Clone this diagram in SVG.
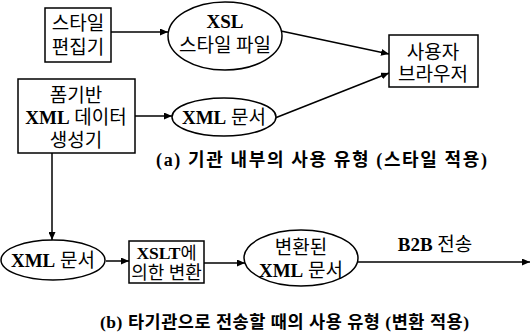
<svg xmlns="http://www.w3.org/2000/svg" width="532" height="336" viewBox="0 0 532 336">
<defs>
<style>
.shape { fill: #fff; stroke: #000; stroke-width: 1.5; }
.t { font-family: "Liberation Serif", "Noto Sans CJK KR", serif; font-size: 19px; text-anchor: middle; fill: #000; }
.b { font-weight: bold; }
.cap { font-family: "Liberation Serif", "Noto Sans CJK KR", serif; font-size: 18px; fill: #000; font-weight: bold; }
.edge { fill: none; stroke: #000; stroke-width: 1.5; marker-end: url(#arr); }
</style>
<marker id="arr" markerUnits="userSpaceOnUse" markerWidth="9" markerHeight="7" refX="8" refY="3.5" orient="auto">
<path d="M0,0 L8,3.5 L0,7 z" fill="#000"/>
</marker>
</defs>
<rect width="532" height="336" fill="#fff"/>
<g id="connectors">
<line class="edge" x1="111" y1="32" x2="168" y2="32"/>
<line class="edge" x1="281" y1="31" x2="389" y2="54"/>
<line class="edge" x1="275" y1="118" x2="389" y2="73"/>
<line class="edge" x1="135" y1="116" x2="172" y2="116"/>
<line class="edge" x1="52" y1="153" x2="52" y2="240"/>
<line class="edge" x1="106" y1="261" x2="129" y2="261"/>
<line class="edge" x1="204" y1="263" x2="245" y2="263"/>
<line class="edge" x1="358" y1="262" x2="530" y2="262"/>
</g>
<g id="style-editor">
<rect class="shape" x="45" y="8" width="66" height="54"/>
<text class="t" x="78" y="30">스타일</text>
<text class="t" x="78" y="54">편집기</text>
</g>
<g id="xsl-file">
<ellipse class="shape" cx="225" cy="36" rx="57" ry="34"/>
<text class="t b" x="225" y="28">XSL</text>
<text class="t" x="225" y="52">스타일 파일</text>
</g>
<g id="browser">
<rect class="shape" x="389" y="35" width="89" height="52"/>
<text class="t" x="433" y="59">사용자</text>
<text class="t" x="433" y="81">브라우저</text>
</g>
<g id="form-generator">
<rect class="shape" x="18" y="79" width="117" height="74"/>
<text class="t" x="76" y="102">폼기반</text>
<text class="t" x="76" y="124"><tspan class="b">XML</tspan> 데이터</text>
<text class="t" x="76" y="147">생성기</text>
</g>
<g id="xml-doc-a">
<ellipse class="shape" cx="224" cy="117" rx="52" ry="19"/>
<text class="t" x="224" y="124"><tspan class="b">XML</tspan> 문서</text>
</g>
<g id="caption-a">
<text class="cap" x="156" y="166" textLength="331" lengthAdjust="spacing">(a) 기관 내부의 사용 유형 (스타일 적용)</text>
</g>
<g id="xml-doc-b">
<ellipse class="shape" cx="53" cy="260" rx="52" ry="20"/>
<text class="t" x="53" y="267"><tspan class="b">XML</tspan> 문서</text>
</g>
<g id="xslt">
<rect class="shape" x="129" y="241" width="75" height="42"/>
<text class="t" x="166.5" y="259" style="font-size:17.5px"><tspan class="b">XSLT</tspan>에</text>
<text class="t" x="166.5" y="279" style="font-size:18px">의한 변환</text>
</g>
<g id="transformed-xml">
<ellipse class="shape" cx="301" cy="258" rx="57" ry="28"/>
<text class="t" x="301" y="254">변환된</text>
<text class="t" x="301" y="277"><tspan class="b">XML</tspan> 문서</text>
</g>
<g id="b2b-label">
<text class="t" x="435" y="251"><tspan class="b">B2B</tspan> 전송</text>
</g>
<g id="caption-b">
<text class="cap" x="100" y="328" style="font-size:17.5px" textLength="369" lengthAdjust="spacing">(b) 타기관으로 전송할 때의 사용 유형 (변환 적용)</text>
</g>
</svg>
